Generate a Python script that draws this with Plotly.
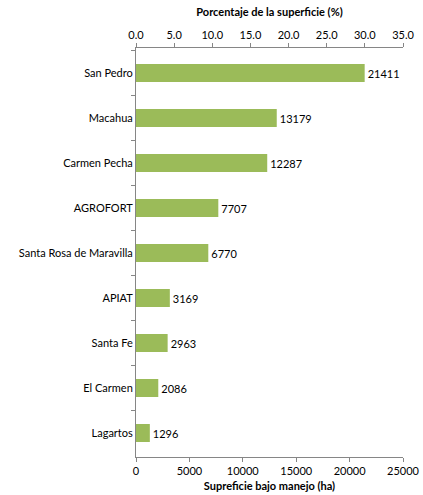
import plotly.graph_objects as go

categories = ["San Pedro", "Macahua", "Carmen Pecha", "AGROFORT",
              "Santa Rosa de Maravilla", "APIAT", "Santa Fe", "El Carmen", "Lagartos"]
superficie_ha = [21411, 13179, 12287, 7707, 6770, 3169, 2963, 2086, 1296]
pct_ticks = [0, 5, 10, 15, 20, 25, 30, 35]

FONT = "Lato"
AXIS_COL = "#868686"

fig = go.Figure()
fig.add_trace(go.Bar(
    x=superficie_ha, y=categories, orientation="h",
    marker=dict(color="#9BBB59", line=dict(width=0)),
    width=0.4,
    text=[str(v) for v in superficie_ha], textposition="outside",
    textfont=dict(family=FONT, size=11, color="#000000"),
    cliponaxis=False, showlegend=False, hoverinfo="x+y",
))
# invisible helper trace so the top percentage axis is drawn
fig.add_trace(go.Scatter(
    x=pct_ticks, y=[categories[0]] * len(pct_ticks), xaxis="x2",
    mode="markers", marker=dict(opacity=0), showlegend=False, hoverinfo="skip",
))

fig.update_layout(
    width=423, height=495,
    margin=dict(l=136, r=20, t=48, b=38, autoexpand=False),
    paper_bgcolor="white", plot_bgcolor="white",
    font=dict(family=FONT, size=11, color="#000000"),
    xaxis=dict(range=[0, 25000], tickvals=[0, 5000, 10000, 15000, 20000, 25000],
               tickformat="d", showgrid=False, zeroline=False, automargin=False,
               showline=True, linecolor=AXIS_COL, linewidth=1,
               ticks="outside", ticklen=4, tickcolor=AXIS_COL,
               tickfont=dict(family=FONT, size=11),
               title=dict(text="<b>Supreficie bajo manejo (ha)</b>",
                          font=dict(family=FONT, size=11), standoff=6)),
    xaxis2=dict(range=[0, 35], tickvals=pct_ticks, tickformat=".1f", overlaying="x",
                side="top", anchor="y", showgrid=False, zeroline=False, automargin=False,
                showline=True, linecolor=AXIS_COL, linewidth=1,
                ticks="outside", ticklen=4, tickcolor=AXIS_COL,
                tickfont=dict(family=FONT, size=11),
                title=dict(text="<b>Porcentaje de la superficie (%)</b>",
                           font=dict(family=FONT, size=11), standoff=8)),
    yaxis=dict(type="category", range=[8.533, -0.556], showgrid=False, zeroline=False,
               automargin=False, showline=True, linecolor=AXIS_COL, linewidth=1,
               ticks="outside", ticklen=4, tickcolor=AXIS_COL, tickson="boundaries",
               tickfont=dict(family=FONT, size=11)),
)
fig.write_html("out.html", config={"displayModeBar": False},
               post_script="document.body.style.margin='0';")
